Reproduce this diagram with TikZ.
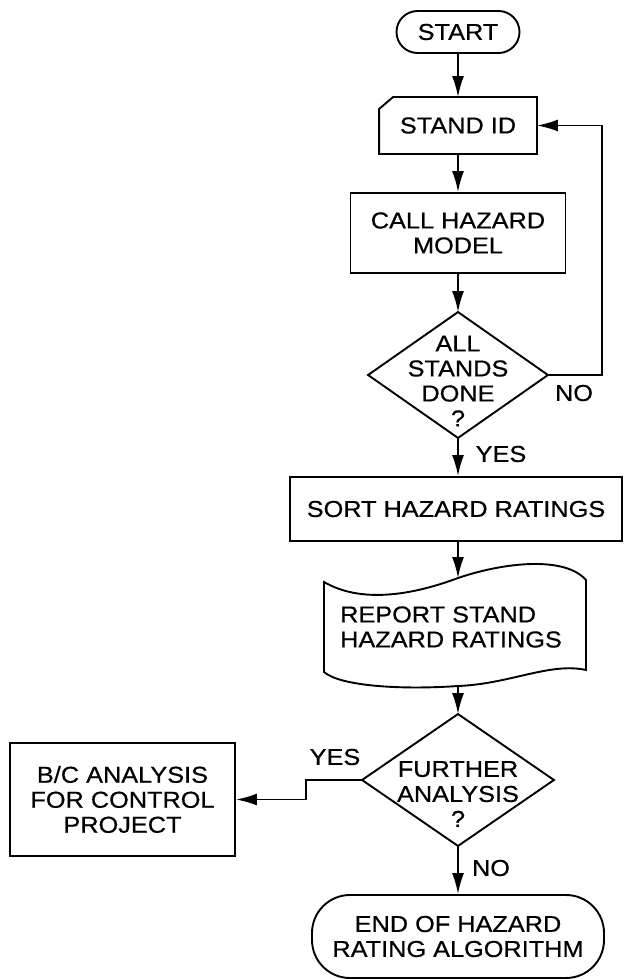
\documentclass[tikz,border=0pt]{standalone}
\usepackage{fontspec}
\setmainfont[FakeStretch=1.1, FakeBold=0.6]{Liberation Sans}
\usetikzlibrary{arrows.meta}
\begin{document}
\begin{tikzpicture}[x=1pt, y=-1pt, line width=1.9pt,
	font=\fontsize{23}{25}\selectfont,
	box/.style={draw, inner sep=0pt, align=center},
	term/.style={box, rounded corners=#1},
	decision/.style={inner sep=0pt, minimum width=#1},
	flow/.style={-{Latex[length=21pt, width=12pt]}},
	]
	\useasboundingbox (0,0) rectangle (625,979);

	% Hauptspalte
	\node[term=21pt, minimum width=123pt, minimum height=42pt] (start) at (458,32) {START};
	\node[inner sep=0pt, minimum width=156pt, minimum height=55pt] (stand) at (458,125.5) {STAND ID};
	\draw ([xshift=14pt]stand.north west) -- (stand.north east) -- (stand.south east)
		-- (stand.south west) -- ([yshift=-12pt]stand.north west) -- cycle;
	\node[box, minimum width=215pt, minimum height=80pt] (call) at (458,233) {CALL HAZARD\\MODEL};

	% Entscheidung: alle Bestaende fertig?
	\node[decision=178pt, minimum height=124pt,
		label={[align=center, yshift=-6pt]center:{ALL\\STANDS\\DONE\\?}}] (done) at (458,375) {};
	\draw (done.north) -- (done.east) -- (done.south) -- (done.west) -- cycle;

	\node[box, minimum width=332pt, minimum height=64pt] (sort) at (456,509) {SORT HAZARD RATINGS};

	% Bericht (Lochstreifen-Form)
	\coordinate (rtop) at (458,578);
	\coordinate (rbot) at (458,686);
	\draw (324,582) .. controls (360,603) and (410,596) .. (rtop)
		.. controls (505,562) and (565,556) .. (586,580) -- (586,670)
		.. controls (550,662) and (510,684) .. (rbot)
		.. controls (400,690) and (340,686) .. (324,672) -- cycle;
	\node[align=left, inner sep=0pt] (report) at (451,627) {REPORT STAND\\HAZARD RATINGS};

	% Entscheidung: weitere Analyse?
	\node[decision=190pt, minimum height=130pt,
		label={[align=center, yshift=-14pt]center:{FURTHER\\ANALYSIS\\?}}] (more) at (458,780) {};
	\draw (more.north) -- (more.east) -- (more.south) -- (more.west) -- cycle;

	\node[box, minimum width=225pt, minimum height=113pt] (bc) at (122.5,799.5) {B/C ANALYSIS\\FOR CONTROL\\PROJECT};
	\node[term=38pt, minimum width=292pt, minimum height=83pt] (stop) at (458,936.5) {END OF HAZARD\\RATING ALGORITHM};

	% Verbindungen
	\draw[flow] (start) -- (stand);
	\draw[flow] (stand) -- (call);
	\draw[flow] (call) -- (done.north);
	\draw[flow] (done.east) -- ++(54,0) |- (stand.east);
	\draw[flow] (done.south) -- (done.south |- sort.north);
	\draw[flow] (sort.south -| rtop) -- (rtop);
	\draw[flow] (rbot) -- (more.north);
	\draw[flow] (more.west) -- ++(-56,0) |- (bc.east);
	\draw[flow] (more.south) -- (stop.north);

	% Beschriftungen
	\node (no1) at (574,393) {NO};
	\node (yes1) at (501,454) {YES};
	\node (yes2) at (335,757) {YES};
	\node (no2) at (491,868) {NO};
\end{tikzpicture}
\end{document}
